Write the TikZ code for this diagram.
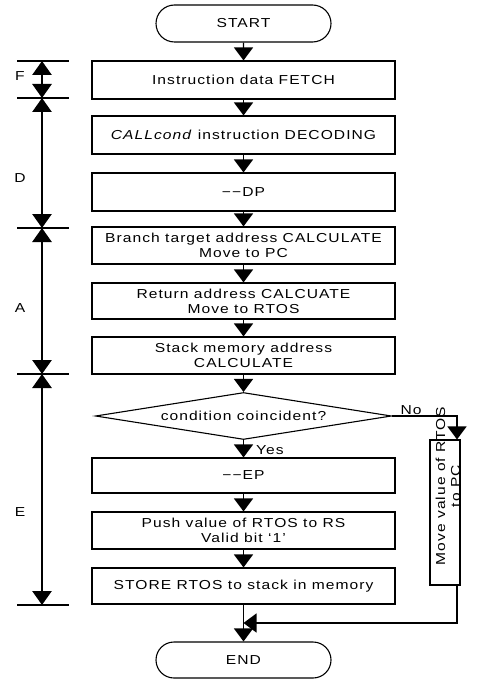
\documentclass[tikz,border=0pt]{standalone}
\usepackage{fontspec}
\setmainfont{Liberation Sans}[FakeStretch=1.2,LetterSpace=8]
\usetikzlibrary{arrows.meta,positioning,shapes.geometric,shapes.misc,calc}
\newcommand{\flowfont}{\fontsize{13}{15}\selectfont}

\begin{document}
\begin{tikzpicture}[x=1pt, y=-1pt,
    box/.style={rectangle, draw, line width=1.1pt, minimum width=303pt,
                minimum height=37pt, inner sep=0pt, align=center, font=\flowfont},
    term/.style={rounded rectangle, draw, line width=1.1pt, minimum width=175pt,
                 minimum height=37pt, inner sep=0pt, font=\flowfont},
    test/.style={diamond, draw, line width=1.1pt, aspect=6.3, minimum width=296pt,
                 minimum height=47pt, inner sep=0pt, font=\flowfont},
    flow/.style={line width=1.4pt, -{Triangle[length=13pt,width=19pt]}},
    stage/.style={line width=2.8pt, {Triangle[length=14pt,width=19pt]}-{Triangle[length=14pt,width=19pt]}},
]
\useasboundingbox (0,0) rectangle (484,679);

% Main flow
\node[term] (start) at (243.5,23.5) {START};
\node[box, minimum height=38pt] (fetch) at (243.5,80) {Instruction data FETCH};
\node[box, minimum height=38pt] (decode) at (243.5,135) {\textit{CALLcond} instruction DECODING};
\node[box, minimum height=38pt] (dp) at (243.5,192) {−−DP};
\node[box] (branch) at (243.5,245.5) {Branch target address CALCULATE\\Move to PC};
\node[box, minimum height=36pt] (ret) at (243.5,301) {Return address CALCUATE\\Move to RTOS};
\node[box] (stack) at (243.5,355.5) {Stack memory address\\CALCULATE};
\node[test] (cond) at (243.5,416) {condition coincident?};
\node[box, minimum height=35pt] (ep) at (243.5,475.5) {−−EP};
\node[box] (push) at (243.5,530.5) {Push value of RTOS to RS\\Valid bit ‘1’};
\node[box, minimum height=36pt] (store) at (243.5,586) {STORE RTOS to stack in memory};
\node[term, minimum height=36pt] (end) at (243.5,660) {END};

% No branch
\node[draw, line width=1.1pt, minimum width=30pt, minimum height=145pt, inner sep=0pt] (side) at (445,512.5) {};
\node[rotate=90, align=center, font=\flowfont, inner sep=0pt] (sidetext) at (448,486) {Move value of RTOS\\to PC};
\coordinate (nobend) at (457,416);
\coordinate (merge) at (243.5,623);

\foreach \a/\b in {start/fetch, fetch/decode, decode/dp, dp/branch, branch/ret,
                   ret/stack, stack/cond, cond/ep, ep/push, push/store, store/end}
    \draw[flow] (\a) -- (\b);
\draw[flow] (cond.east) -- (nobend) -- (nobend |- side.north);
\draw[flow] (side.south -| nobend) |- (merge);
\node[font=\flowfont, anchor=south, inner sep=1pt] (nolabel) at (411,416) {No};
\node[font=\flowfont, anchor=west, inner sep=0pt] (yeslabel) at (256,450) {Yes};

% Pipeline stages
\foreach \n/\y in {t0/61, t1/98, t2/228, t3/374, t4/605} {
    \coordinate (\n) at (42,\y);
    \draw[line width=2.2pt] ($(\n)+(-25,0)$) -- ($(\n)+(27,0)$);
}
\foreach \a/\b in {t0/t1, t1/t2, t2/t3, t3/t4}
    \draw[stage] (\a) -- (\b);
\node[font=\flowfont] (fstage) at (20,76) {F};
\node[font=\flowfont] (dstage) at (20,178) {D};
\node[font=\flowfont] (astage) at (20,308) {A};
\node[font=\flowfont] (estage) at (20,512) {E};
\end{tikzpicture}
\end{document}
